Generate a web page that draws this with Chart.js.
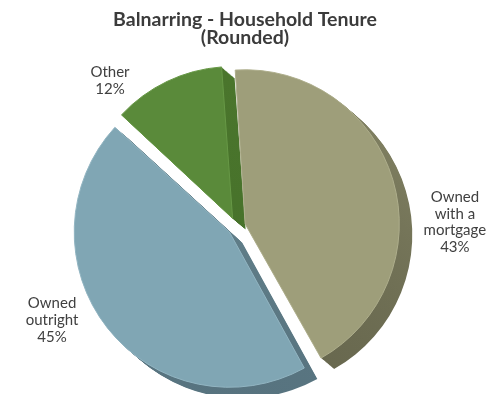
<!DOCTYPE html>
<html>
<head>
<meta charset="utf-8">
<script src="https://cdn.jsdelivr.net/npm/chart.js@4.4.1/dist/chart.umd.min.js"></script>
<style>
  html, body { margin: 0; padding: 0; background: #ffffff; }
  #wrap { width: 494px; height: 394px; }
</style>
</head>
<body>
<div id="wrap"><canvas id="tenure" width="494" height="394"></canvas></div>
<script>
// Household tenure shares (rounded, %)
const categories = ['Owned with a mortgage', 'Owned outright', 'Other'];
const labelLines = [['Owned', 'with a', 'mortgage'], ['Owned', 'outright'], ['Other']];
const shares = [43, 45, 12];
const titleLines = ['Balnarring - Household Tenure', '(Rounded)'];

// Slice styling
const faceColors = ['#9e9e7a', '#80a6b4', '#5a8a3a'];
const rimColors = ['#aeae8c', '#92b5c2', '#679846'];
const sideColors = [['#838364', '#66664d'], ['#67868f', '#57737f'], ['#4a752c', '#45702a']];

// Extruded side of every slice: copies of the arc pushed down and to the right
const depth = { x: 13, y: 11, steps: 16 };

const sidePlugin = {
  id: 'pieSides',
  beforeDatasetsDraw(chart) {
    const ctx = chart.ctx;
    const meta = chart.getDatasetMeta(0);
    meta.data.forEach((arc, i) => {
      const { y, outerRadius } = arc.getProps(['y', 'outerRadius'], true);
      const grad = ctx.createLinearGradient(0, y - outerRadius, 0, y + outerRadius + depth.y);
      grad.addColorStop(0, sideColors[i][0]);
      grad.addColorStop(1, sideColors[i][1]);
      const saved = arc.options;
      arc.options = Object.assign({}, saved, { backgroundColor: grad, borderWidth: 0 });
      for (let s = depth.steps; s >= 1; s--) {
        const t = s / depth.steps;
        ctx.save();
        ctx.translate(depth.x * t, depth.y * t);
        arc.draw(ctx);
        ctx.restore();
      }
      arc.options = saved;
    });
  }
};

// Category labels around the pie and the two-line heading
const labelPlace = [
  { turn: 15.4, reach: 1.466 },
  { turn: 11.3, reach: 1.388 },
  { turn: -15.3, reach: 1.297 }
];

const textPlugin = {
  id: 'pieText',
  afterDatasetsDraw(chart) {
    const ctx = chart.ctx;
    const meta = chart.getDatasetMeta(0);
    ctx.save();
    ctx.fillStyle = '#404040';
    ctx.font = '15px Lato';
    ctx.textAlign = 'center';
    ctx.textBaseline = 'alphabetic';
    const lh = 16.8;
    meta.data.forEach((arc, i) => {
      const { x, y, startAngle, endAngle, outerRadius } =
        arc.getProps(['x', 'y', 'startAngle', 'endAngle', 'outerRadius'], true);
      const a = (startAngle + endAngle) / 2 + labelPlace[i].turn * Math.PI / 180;
      const r = outerRadius * labelPlace[i].reach;
      const cx = x + Math.cos(a) * r;
      const cy = y + Math.sin(a) * r;
      const lines = labelLines[i].concat([shares[i] + '%']);
      lines.forEach((txt, k) => {
        ctx.fillText(txt, cx, cy + 5 + (k - (lines.length - 1) / 2) * lh);
      });
    });
    ctx.fillStyle = '#3b3b3b';
    ctx.font = 'bold 19.5px Lato';
    const mid = chart.width / 2 - 2;
    ctx.fillText(titleLines[0], mid, 26);
    ctx.fillText(titleLines[1], mid, 44);
    ctx.restore();
  }
};

new Chart(document.getElementById('tenure'), {
  type: 'pie',
  data: {
    labels: categories,
    datasets: [{
      data: shares,
      backgroundColor: faceColors,
      borderColor: rimColors,
      borderWidth: 1,
      offset: 36,
      hoverOffset: 0
    }]
  },
  options: {
    responsive: false,
    animation: false,
    events: [],
    rotation: -4,
    radius: 149,
    layout: { padding: { top: 59, right: 21, bottom: 0, left: 0 } },
    plugins: {
      legend: { display: false },
      title: { display: false },
      tooltip: { enabled: false }
    }
  },
  plugins: [sidePlugin, textPlugin]
});
</script>
</body>
</html>
